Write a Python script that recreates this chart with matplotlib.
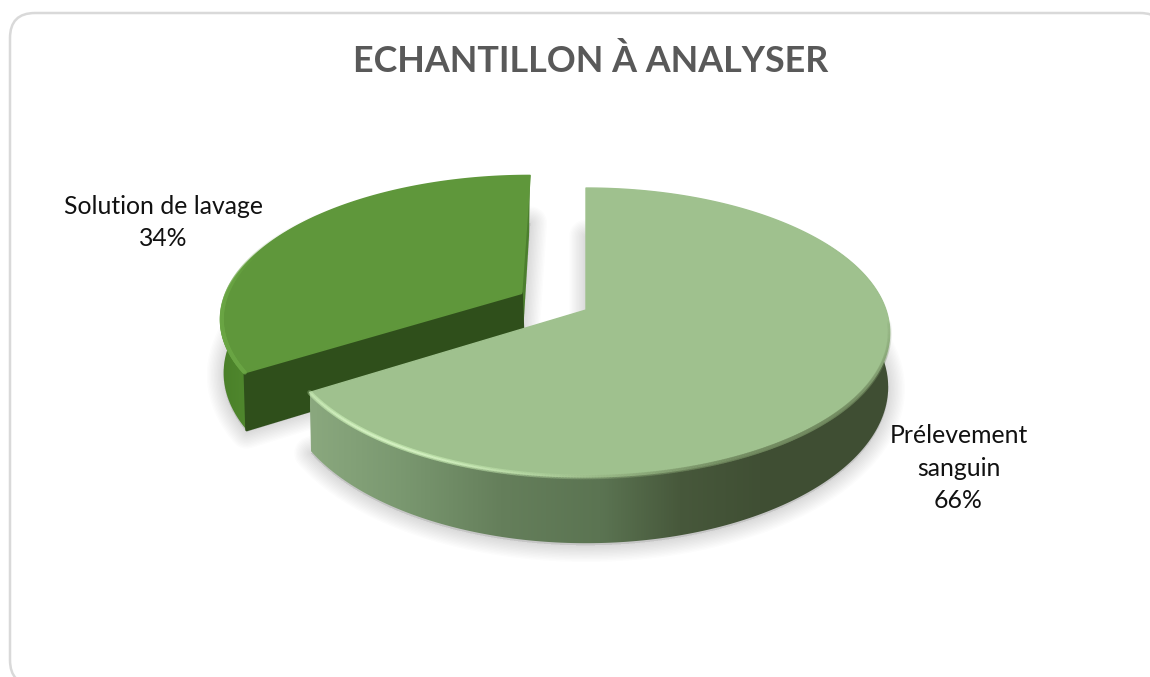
import matplotlib
matplotlib.use('Agg')
import matplotlib.pyplot as plt
import numpy as np
from matplotlib.collections import LineCollection
from matplotlib.colors import LinearSegmentedColormap, to_rgb
from matplotlib.patches import FancyBboxPatch, Polygon

title = 'ECHANTILLON À ANALYSER'
categories = ['Prélevement\nsanguin', 'Solution de lavage']
values = [66, 34]

# projection of the unit pie disc onto the page, in pixel coordinates
CX, CY = 586, 310
RX = 300
SLOPE = -92.7
PERSP = 0.1557
DEPTH = 53
EXPLODE = 0.25


def project(u, v):
    den = 1 + PERSP * v
    return CX + RX * u / den, (CY + SLOPE * v) / den


def arc(start, end, center=(0, 0), n=200):
    theta = np.radians(np.linspace(start, end, n))
    return project(center[0] + np.sin(theta), center[1] + np.cos(theta))


def lower(x, y):
    # same points on the bottom face of the disc, nearer points drop further
    return CX + (x - CX) * 0.995, y + DEPTH / (1 + PERSP * (CY - y) / 130)


def wedge_points(start, end, center=(0, 0)):
    ax_, ay_ = project(center[0], center[1])
    x, y = arc(start, end, center)
    return np.column_stack([np.r_[ax_, x], np.r_[ay_, y]])


def draw_shadow(ax, pts):
    sx, sy = lower(pts[:, 0], pts[:, 1])
    shadow = np.column_stack([sx, sy + 2])
    for lw in np.arange(2, 26, 2.0):
        ax.add_patch(Polygon(shadow, closed=True, fc=(0.45, 0.45, 0.45, 0.014), ec=(0.45, 0.45, 0.45, 0.018),
                             lw=lw, joinstyle='round', zorder=1))


def draw_side(ax, start, end, center, stops, zorder):
    x, y = arc(start, end, center)
    bx, by = lower(x, y)
    patch = Polygon(np.column_stack([np.r_[x, bx[::-1]], np.r_[y, by[::-1]]]), closed=True, fc='none', ec='none')
    ax.add_patch(patch)
    patch.set_zorder(zorder)
    x0, x1 = min(x.min(), bx.min()), max(x.max(), bx.max())
    pos = [(p - x0) / (x1 - x0) for p, _ in stops]
    pos = [0] + pos[1:-1] + [1]
    cmap = LinearSegmentedColormap.from_list('side', list(zip(pos, [c for _, c in stops])))
    img = ax.imshow(np.linspace(0, 1, 512).reshape(1, -1), cmap=cmap, aspect='auto', interpolation='bilinear',
                    extent=[x0, x1, by.max() + 2, y.min() - 2], zorder=zorder)
    img.set_clip_path(patch)


def draw_rim(ax, start, end, center, color, peak, spread, width, strength, zorder):
    x, y = arc(start, end, center, n=300)
    pts = np.column_stack([x, y])
    segs = np.stack([pts[:-1], pts[1:]], axis=1)
    mid = np.linspace(start, end, len(segs))
    alpha = strength * np.exp(-((mid - peak) / spread) ** 2)
    colors = [(*to_rgb(color), a) for a in alpha]
    ax.add_collection(LineCollection(segs, colors=colors, linewidths=width, capstyle='round', zorder=zorder))


fig = plt.figure(figsize=(11.5, 6.77), dpi=100)
ax = fig.add_axes([0, 0, 1, 1])
ax.axis('off')

ax.add_patch(FancyBboxPatch((35, 38), 1105, 622, boxstyle='round,pad=25,rounding_size=25', fc='white', ec='#d9d9d9',
                            lw=1.8, zorder=0))

# slice angles run clockwise from twelve o'clock
big_end = 360 * values[0] / sum(values)
mid_small = np.radians((big_end + 360) / 2)
small_center = (EXPLODE * np.sin(mid_small), EXPLODE * np.cos(mid_small))

big_pts = wedge_points(0, big_end)
small_pts = wedge_points(big_end, 360, small_center)
draw_shadow(ax, small_pts)
draw_shadow(ax, big_pts)

# exploded slice
draw_side(ax, big_end, 300, small_center, [(240, '#4a8029'), (300, '#5a9436')], 2)
apex_x, apex_y = project(*small_center)
tip_x, tip_y = arc(big_end, big_end, small_center, n=1)
end_x, end_y = arc(360, 360, small_center, n=1)
ax.add_patch(Polygon([(end_x[0], end_y[0]), (apex_x, apex_y), (apex_x + 2, apex_y + DEPTH * 0.62),
                      (end_x[0] - 1, end_y[0] + 60)], closed=True, fc='#4c7f2e', ec='none', zorder=2))
tip_bx, tip_by = lower(tip_x, tip_y)
ax.add_patch(Polygon([(tip_x[0], tip_y[0]), (apex_x, apex_y), (apex_x + 2, apex_y + DEPTH),
                      (tip_bx[0], tip_by[0])], closed=True, fc='#2f4f1b', ec='#2f4f1b', lw=2,
                     joinstyle='round', zorder=3))
ax.add_patch(Polygon(small_pts, closed=True, fc='#5f973b', ec='#5f973b', lw=1.2, joinstyle='round', zorder=4))
draw_rim(ax, big_end, 310, small_center, '#6aa544', 250, 24, 3.0, 0.8, 5)

# main slice
draw_side(ax, 60, big_end, (0, 0),
          [(308, '#8aa87e'), (400, '#7a9870'), (500, '#657f5b'), (600, '#5b7452'), (680, '#47583b'),
           (760, '#404f34'), (890, '#3f4e33')], 6)
ax.add_patch(Polygon(big_pts, closed=True, fc='#9fc18e', ec='#9fc18e', lw=1.0, joinstyle='round', zorder=7))
# soft bevel along the front edge, dull on the right and bright on the left
draw_rim(ax, 95, big_end, (0, 0), '#71895f', 145, 28, 3.0, 0.7, 8)
draw_rim(ax, 95, big_end, (0, 0), '#c8ecb4', 215, 30, 3.5, 0.45, 8)
draw_rim(ax, 95, big_end, (0, 0), '#d6f2c4', 215, 18, 1.4, 0.75, 8)

ax.text(591, 61, title, ha='center', va='center', fontsize=25.8, fontweight='bold', family='Lato', color='#595959')

label_font = dict(ha='center', va='center', fontsize=17.8, family='Lato', color='#111111', linespacing=1.5, zorder=9)
ax.text(958.5, 468, f'{categories[0]}\n{values[0]}%', **label_font)
ax.text(163, 222.5, f'{categories[1]}\n{values[1]}%', **label_font)

ax.set_xlim(0, 1150)
ax.set_ylim(677, 0)
fig.savefig('out.png', dpi=100)
